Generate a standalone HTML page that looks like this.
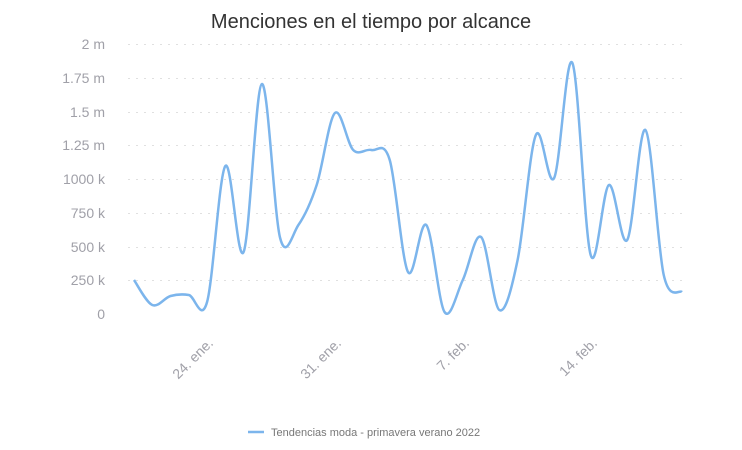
<!DOCTYPE html>
<html><head><meta charset="utf-8"><style>
html,body{margin:0;padding:0;background:#fff;width:742px;height:450px;overflow:hidden}
text{font-family:"Liberation Sans",sans-serif}
</style></head><body>
<svg id="s" width="742" height="450" xmlns="http://www.w3.org/2000/svg">
<text x="371" y="28" text-anchor="middle" font-size="20" fill="#333">Menciones en el tiempo por alcance</text>
<g stroke="#e0e0e0" stroke-dasharray="2,6" stroke-width="1">
<line x1="128" x2="688" y1="44.5" y2="44.5"/><line x1="128" x2="688" y1="78.5" y2="78.5"/>
<line x1="128" x2="688" y1="112.5" y2="112.5"/><line x1="128" x2="688" y1="145.5" y2="145.5"/>
<line x1="128" x2="688" y1="179.5" y2="179.5"/><line x1="128" x2="688" y1="213.5" y2="213.5"/>
<line x1="128" x2="688" y1="247.5" y2="247.5"/><line x1="128" x2="688" y1="280.5" y2="280.5"/>
</g>
<g font-size="14" fill="#a0a0a8" text-anchor="end">
<text x="105" y="49">2 m</text><text x="105" y="83">1.75 m</text><text x="105" y="117">1.5 m</text>
<text x="105" y="150">1.25 m</text><text x="105" y="184">1000 k</text><text x="105" y="218">750 k</text>
<text x="105" y="252">500 k</text><text x="105" y="285">250 k</text><text x="105" y="319">0</text>
</g>
<g font-size="14" fill="#a0a0a8" text-anchor="end">
<text transform="translate(214,344) rotate(-45)">24. ene.</text>
<text transform="translate(342,344) rotate(-45)">31. ene.</text>
<text transform="translate(470,344) rotate(-45)">7. feb.</text>
<text transform="translate(598,344) rotate(-45)">14. feb.</text>
</g>
<path id="p" fill="none" stroke="#7cb5ec" stroke-width="2.5"/>
<line x1="248" x2="264" y1="432" y2="432" stroke="#7cb5ec" stroke-width="2.5"/>
<text x="271" y="436" font-size="11" fill="#777">Tendencias moda - primavera verano 2022</text>
</svg>
<script>
var ys=[280,305,296,295,302,166,252,84,238,225,185,113,150,150,160,272,225,312,280,237,310,260,135,178,63,255,185,240,130,275,292];
var pts=ys.map(function(y,i){return [134+i*(548/30),y]});
var d="M"+pts[0][0]+","+pts[0][1];
for(var i=0;i<pts.length-1;i++){
var p0=pts[Math.max(0,i-1)],p1=pts[i],p2=pts[i+1],p3=pts[Math.min(pts.length-1,i+2)];
var t=6;
d+=" C"+(p1[0]+(p2[0]-p0[0])/t)+","+(p1[1]+(p2[1]-p0[1])/t)+" "+(p2[0]-(p3[0]-p1[0])/t)+","+(p2[1]-(p3[1]-p1[1])/t)+" "+p2[0]+","+p2[1];
}
document.getElementById("p").setAttribute("d",d);
</script>
</body></html>
